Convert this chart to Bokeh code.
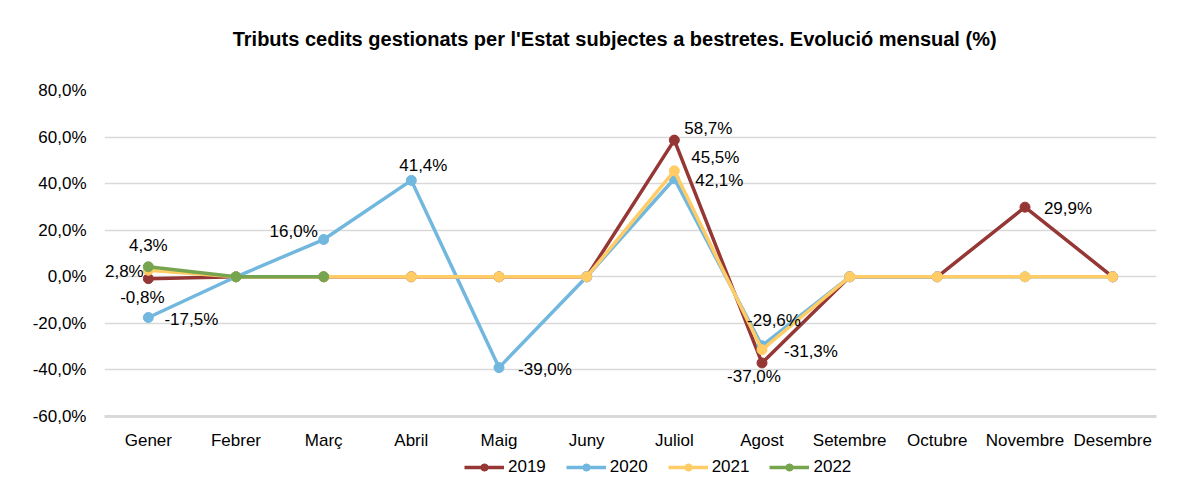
from bokeh.plotting import figure
from bokeh.layouts import column
from bokeh.models import (ColumnDataSource, FactorRange, FixedTicker, Legend, LegendItem)
from bokeh.core.properties import value
from bokeh.embed import file_html
from bokeh.resources import INLINE

months = ["Gener", "Febrer", "Març", "Abril", "Maig", "Juny", "Juliol", "Agost",
          "Setembre", "Octubre", "Novembre", "Desembre"]
s2019 = [-0.8, 0.0, 0.0, 0.0, 0.0, 0.0, 58.7, -37.0, 0.0, 0.0, 29.9, 0.0]
s2020 = [-17.5, 0.0, 16.0, 41.4, -39.0, 0.0, 42.1, -29.6, 0.0, 0.0, 0.0, 0.0]
s2021 = [2.8, 0.0, 0.0, 0.0, 0.0, 0.0, 45.5, -31.3, 0.0, 0.0, 0.0, 0.0]
s2022 = [4.3, 0.0, 0.0]
y_ticks = [-60, -40, -20, 0, 20, 40, 60, 80]
y_tick_labels = ["-60,0%", "-40,0%", "-20,0%", "0,0%", "20,0%", "40,0%", "60,0%", "80,0%"]
title_text = "Tributs cedits gestionats per l'Estat subjectes a bestretes. Evolució mensual (%)"

series = [("2019", s2019, "#953735"), ("2020", s2020, "#71B7DE"),
          ("2021", s2021, "#FFCC66"), ("2022", s2022, "#77A54F")]

# label offsets (screen px, y positive = down) for nonzero values, per series & month index
offsets = {
    ("2019", 0): (-6, 19), ("2019", 6): (34, -12), ("2019", 7): (-8, 14), ("2019", 10): (43, 1),
    ("2020", 0): (43, 2), ("2020", 2): (-30, -8), ("2020", 3): (12, -15), ("2020", 4): (46, 2),
    ("2020", 6): (45, 2), ("2020", 7): (12, -25),
    ("2021", 0): (-24, 1), ("2021", 6): (41, -13), ("2021", 7): (49, 2),
    ("2022", 0): (0, -21),
}

FONT = "Liberation Sans"
W = 1194
TH = 60   # title strip height

# ---- title strip ----
tf = figure(width=W, height=TH, x_range=(0, W), y_range=(0, TH), output_backend="svg",
            toolbar_location=None, min_border_left=0, min_border_right=0,
            min_border_top=0, min_border_bottom=0)
tf.axis.visible = False
tf.grid.visible = False
tf.outline_line_color = None
tf.text(x=[579], y=[TH - 38], text=[title_text], text_font=value(FONT),
        text_font_size="20px", text_font_style="bold", text_color="#000000",
        text_align="center", text_baseline="middle")

# ---- main chart ----
p = figure(width=W, height=396, x_range=FactorRange(*months), y_range=(-60, 80),
           output_backend="svg", toolbar_location=None,
           min_border_left=104, min_border_right=38, min_border_top=30, min_border_bottom=40)
p.outline_line_color = None
p.background_fill_color = "white"
p.border_fill_color = "white"

p.yaxis.ticker = FixedTicker(ticks=y_ticks)
p.yaxis.major_label_overrides = {t: l for t, l in zip(y_ticks, y_tick_labels)}
p.yaxis.axis_line_color = None
p.yaxis.major_tick_line_color = None
p.yaxis.minor_tick_line_color = None
p.yaxis.major_label_standoff = 12
p.yaxis.major_label_text_font = FONT
p.yaxis.major_label_text_font_size = "17px"
p.yaxis.major_label_text_color = "#000000"

p.xaxis.axis_line_color = "#d9d9d9"
p.xaxis.axis_line_width = 3
p.xaxis.major_tick_line_color = None
p.xaxis.minor_tick_line_color = None
p.xaxis.major_label_standoff = 8
p.xaxis.major_label_text_font = FONT
p.xaxis.major_label_text_font_size = "17px"
p.xaxis.major_label_text_color = "#000000"

p.xgrid.grid_line_color = None
p.ygrid.grid_line_color = "#d9d9d9"
p.ygrid.grid_line_width = 1.5

for name, vals, col in series:
    src = ColumnDataSource(dict(x=months[:len(vals)], y=vals))
    p.line("x", "y", source=src, line_color=col, line_width=3.5)
    p.scatter("x", "y", source=src, size=10, fill_color=col, line_color=col)

# data labels
lx, ly, lt, xo, yo = [], [], [], [], []
for name, vals, col in series:
    for i, v in enumerate(vals):
        if v != 0:
            lx.append(months[i]); ly.append(v)
            lt.append(("%.1f%%" % v).replace(".", ","))
            ox, oy = offsets.get((name, i), (0, -15))
            xo.append(ox); yo.append(oy)
lsrc = ColumnDataSource(dict(x=lx, y=ly, t=lt, xo=xo, yo=yo))
p.text("x", "y", text="t", x_offset="xo", y_offset="yo", source=lsrc,
       text_font=value(FONT), text_font_size="17px", text_color="#000000",
       text_align="center", text_baseline="middle")

# ---- legend strip (series drawn off-range there, only legend visible) ----
lp = figure(width=W, height=22, output_backend="svg", toolbar_location=None,
            x_range=FactorRange(*months), y_range=(1000, 1001),
            min_border_left=0, min_border_right=0, min_border_top=0, min_border_bottom=0)
lp.axis.visible = False
lp.grid.visible = False
lp.outline_line_color = None
items = []
for name, vals, col in series:
    src = ColumnDataSource(dict(x=months[:len(vals)], y=vals))
    l = lp.line("x", "y", source=src, line_color=col, line_width=3.5)
    c = lp.scatter("x", "y", source=src, size=10, fill_color=col, line_color=col)
    items.append(LegendItem(label=name, renderers=[l, c]))
legend = Legend(items=items, orientation="horizontal", location=(360, 1),
                label_text_font=FONT, label_text_font_size="17px", label_text_color="#000000",
                glyph_width=40, glyph_height=18, spacing=20, padding=0, margin=0,
                border_line_color=None, background_fill_alpha=0, label_standoff=4)
lp.add_layout(legend)

layout = column(tf, p, lp, spacing=0)
open("out.html", "w").write(file_html(layout, INLINE))
